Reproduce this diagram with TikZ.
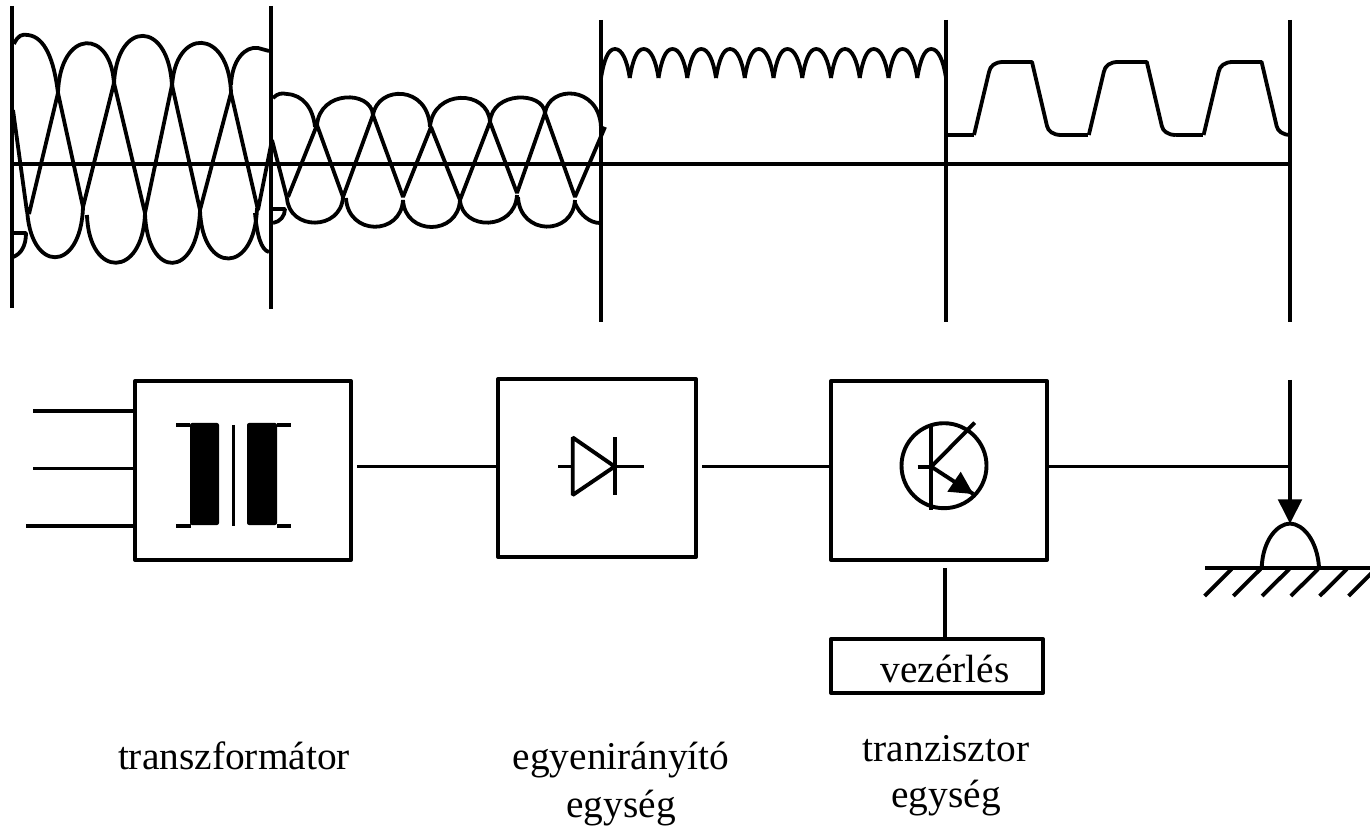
\documentclass[tikz,border=0pt]{standalone}
\usepackage{fontspec}
\setmainfont{Liberation Serif}
\usetikzlibrary{calc}
\tikzset{
 wire/.style={line width=1.95pt},
 wave/.style={line width=1.9pt,line join=bevel},
 guide/.style={line width=2.1pt},
 thin guide/.style={line width=1.8pt},
 blockbox/.style={draw,line width=2pt,inner sep=0pt,outer sep=0pt,line join=round},
 caption/.style={font=\fontsize{19.7}{24}\selectfont,inner sep=0pt,anchor=base},
}
\begin{document}
\begin{tikzpicture}[x=0.5pt,y=-0.5pt,line join=bevel]
\useasboundingbox (0,0) rectangle (1370,828);

 \draw [guide] (12,6) -- (12,308);
 \draw [guide] (271,6) -- (271,309);
 \draw [thin guide] (601,20) -- (601,322);
 \draw [thin guide] (946,20) -- (946,322);
 \draw [thin guide] (1290,20) -- (1290,322);
 \draw [wire] (13,164) -- (1290,164);

 \draw [wave] (14,44) .. controls (18,35) and (22,34) .. (28,35) .. controls (45,37) and (54,60) .. (58,93);
 \draw [wave] (58,93) .. controls (60,28) and (112,28) .. (114,85);
 \draw [wave] (114,85) .. controls (116,19) and (170,19) .. (172,88);
 \draw [wave] (172,88) .. controls (174,27) and (229,27) .. (231,93);
 \draw [wave] (231,85) .. controls (232,60) and (245,46) .. (258,48) -- (269,51);
 \draw [wave] (13,110) -- (27,212);
 \draw [wave] (29,214) -- (58,93) -- (83,207) -- (114,83) -- (145,213) -- (172,85) -- (200,210) -- (231,93) -- (258,210) -- (272,140) -- (287,198);
 \draw [wave] (27,207) .. controls (29,274) and (81,274) .. (83,207);
 \draw [wave] (87,215) .. controls (89,279) and (143,279) .. (145,213);
 \draw [wave] (145,213) .. controls (147,280) and (198,280) .. (200,210);
 \draw [wave] (200,210) .. controls (202,275) and (255,275) .. (257,208);
 \draw [wave] (255,213) .. controls (257,235) and (261,250) .. (269,252);
 \draw [wave] (13,233) -- (26,233) .. controls (26,246) and (21,254) .. (13,257);
 \draw [wave] (273,209) -- (285,209) .. controls (285,216) and (280,222) .. (273,223);

 \draw [wave] (273,98) .. controls (278,93) and (282,93) .. (287,94) .. controls (303,95) and (313,108) .. (315,127);
 \draw [wave] (317,125) .. controls (320,90) and (371,90) .. (373,115);
 \draw [wave] (373,115) .. controls (378,85) and (428,85) .. (430,127);
 \draw [wave] (430,127) .. controls (433,89) and (488,89) .. (490,122);
 \draw [wave] (490,122) .. controls (492,91) and (543,91) .. (545,113);
 \draw [wave] (545,113) .. controls (549,85) and (599,85) .. (601,127);
 \draw [wave] (288,197) -- (317,125) -- (343,197) -- (373,115) -- (403,197) -- (431,127) -- (460,200) -- (490,122) -- (517,193) -- (545,113) -- (575,197) -- (605,127);
 \draw [wave] (287,198) .. controls (289,231) and (341,231) .. (343,197);
 \draw [wave] (346,198) .. controls (348,236) and (401,236) .. (403,200);
 \draw [wave] (403,200) .. controls (405,236) and (458,236) .. (460,200);
 \draw [wave] (460,200) .. controls (462,231) and (515,231) .. (517,195);
 \draw [wave] (518,197) .. controls (520,236) and (573,236) .. (575,200);
 \draw [wave] (575,203) .. controls (580,215) and (590,223) .. (600,223);

\foreach \i in {0,...,11}
 \draw [wave,xshift=14.375*\i pt] (601,78) .. controls (604,60) and (608,49) .. (615,49) .. controls (622,49) and (627,60) .. (629.75,78);
 \draw [wave] (946,135) -- (974,135);
\foreach \i in {0,1,2}
 \draw [wave,xshift=57.4*\i pt] (974,135) -- (989,72) .. controls (990,66) and (995,62) .. (1003,62) -- (1032,62) -- (1047,126) .. controls (1048,131) and (1053,135) .. (1061,135);
 \draw [wave] (1061,135) -- (1088,135);
 \draw [wave] (1176,135) -- (1203,135);

\node [blockbox,minimum width=108pt,minimum height=89.5pt] (trafo) at (243,470.5) {};
\node [blockbox,minimum width=99pt,minimum height=89pt] (rect) at (597,468) {};
\node [blockbox,minimum width=108pt,minimum height=89.5pt] (tran) at (939,470.5) {};
\node [blockbox,minimum width=106pt,minimum height=27pt] (ctrl) at (937,666) {};
\node [caption] (ctrltext) at (945,682) {vezérlés};

\coordinate (inA) at (33,411);
\coordinate (inB) at (33,468.5);
\coordinate (inC) at (26,526);
\coordinate (mid) at (0,466.5);
 \draw [wire] (inA) -- (inA -| trafo.west);
 \draw [wire] (inB) -- (inB -| trafo.west);
 \draw [wire] (inC) -- (inC -| trafo.west);
 \draw [wire,shorten <=3pt] (trafo.east |- mid) -- (rect.west |- mid);
 \draw [wire,shorten <=3pt] (rect.east |- mid) -- (tran.west |- mid);

\fill [rounded corners=1pt] (190,423) rectangle (219,525);
\fill [rounded corners=1pt] (247,423) rectangle (277,525);
 \draw [wire] (233.5,425) -- (233.5,526);
 \draw [wire] (176,425) -- (190,425);
 \draw [wire] (176,526) -- (191,526);
 \draw [wire] (277,425) -- (291,425);
 \draw [wire] (277,526) -- (291,526);

 \draw [wire] (558,466.5) -- (572.7,466.5);
 \draw [wire] (572.7,437.5) -- (572.7,495) -- (614.7,466.5) -- cycle;
 \draw [wire] (614.7,437) -- (614.7,495);
 \draw [wire] (614.7,466.5) -- (644,466.5);

\node [draw,circle,line width=1.95pt,minimum size=42.5pt,inner sep=0pt] (tcirc) at (944,465.7) {};
\coordinate (tbase) at (931.3,466.7);
\coordinate (tcoll) at (974.7,422.7);
\coordinate (temit) at (973.3,494);
 \draw [wire] (917.7,466.7) -- (tbase);
 \draw [wire] (931.3,426.7) -- (931.3,510);
 \draw [wire] (tbase) -- (tcoll);
 \draw [wire] (tbase) -- (temit);
\fill (temit) -- (947.3,491.7) -- (960.7,471.7) -- cycle;

\coordinate (lug) at (1290,380);
\coordinate (tip) at (1290,523.5);
 \draw [wire] (tran.east |- mid) -- (lug |- mid);
 \draw [wire] (lug) -- (1290,500);
\fill (1277.7,499.3) -- (1302.3,499.3) -- (tip) -- cycle;
 \draw [wire] (1261.7,567) .. controls (1263,540) and (1277,524) .. (tip) .. controls (1303,524) and (1317,540) .. (1319,567);
 \draw [wire] (1205,567.7) -- (1370,567.7);
\foreach \i in {0,...,5}
 \draw [wire,xshift=14.4*\i pt] (1231.7,569) -- (1204.5,596);

 \draw [wire] (945,568) -- (ctrl.north -| 945,0);

\node [caption] (trafotext) at (234,769) {transzformátor};
\node [caption] (recttext) at (621,769) {egyenirányító};
\node [caption] (rectunit) at (621,817) {egység};
\node [caption] (trantext) at (946,761) {tranzisztor};
\node [caption] (tranunit) at (946,807) {egység};
\end{tikzpicture}
\end{document}
